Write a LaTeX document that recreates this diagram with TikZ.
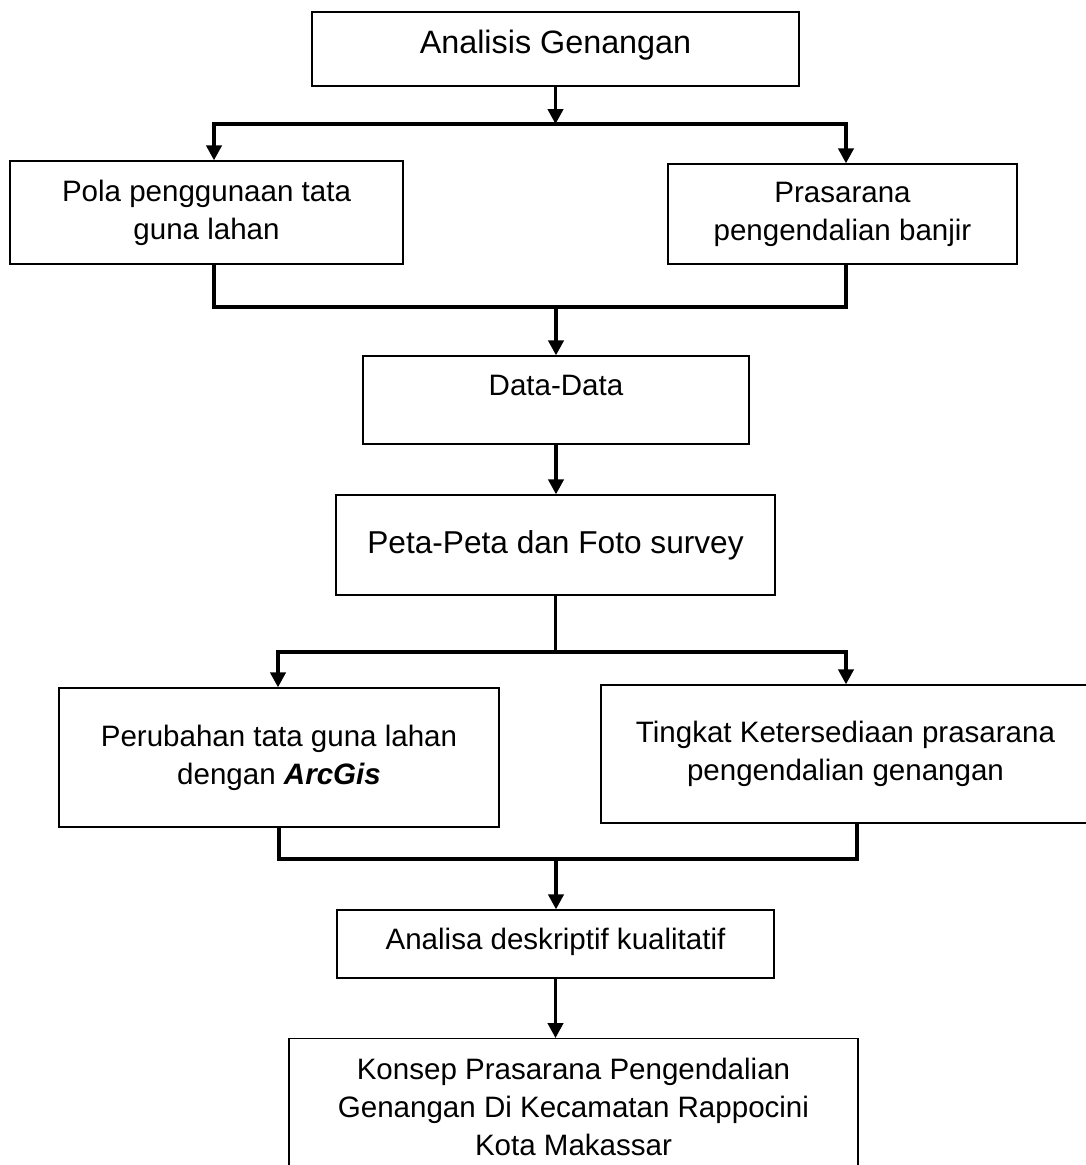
\documentclass[tikz,border=0pt]{standalone}
\usepackage{fontspec}
\setmainfont{Liberation Sans}
\usetikzlibrary{arrows.meta, calc}

\begin{document}
\begin{tikzpicture}[
  x=0.025cm, y=-0.025cm,
  box/.style={draw, line width=1pt, align=center, inner sep=0pt,
              font=\fontsize{21}{27}\selectfont},
  arr/.style={-{Triangle[length=0.37cm, width=0.38cm]}, line width=2.2pt},
  arrs/.style={{Triangle[length=0.37cm, width=0.38cm]}-{Triangle[length=0.37cm, width=0.38cm]},
               line width=2.2pt, line join=miter},
  stem/.style={line width=2.2pt},
  bar/.style={line width=3.4pt, line join=miter},
]
\useasboundingbox (0,0) rectangle (1086,1165);
\clip (0,0) rectangle (1086,1165);

% Top
\node[box, minimum width=12.175cm, minimum height=1.85cm,
      font=\fontsize{23}{27}\selectfont,
      text height=16pt, text depth=9pt] (genangan) at (555.5,49) {Analisis Genangan};

% Two inputs
\node[box, minimum width=9.825cm, minimum height=2.575cm] (pola) at (206.5,212.5)
      {Pola penggunaan tata\\guna lahan};
\node[box, minimum width=8.725cm, minimum height=2.5cm] (banjir) at (842.5,214)
      {Prasarana\\pengendalian banjir};

% Data
\node[box, minimum width=9.65cm, minimum height=2.2cm,
      text height=15pt, text depth=21pt] (data) at (556,400) {Data-Data};
\node[box, minimum width=10.975cm, minimum height=2.5cm,
      font=\fontsize{22.5}{27}\selectfont] (peta) at (555.5,545) {Peta-Peta dan Foto survey};

% Two analyses
\node[box, minimum width=11cm, minimum height=3.475cm] (perubahan) at (279,757.5)
      {Perubahan tata guna lahan\\dengan \textbf{\textit{ArcGis}}};
\node[box, minimum width=12.225cm, minimum height=3.45cm] (tingkat) at (845.5,754)
      {Tingkat Ketersediaan prasarana\\pengendalian genangan};

% Result
\node[box, minimum width=10.925cm, minimum height=1.7cm,
      text height=15pt, text depth=7pt] (analisa) at (555.5,944) {Analisa deskriptif kualitatif};
\node[box, minimum width=14.225cm, anchor=north, inner ysep=13.5pt] (konsep) at (573.5,1038)
      {Konsep Prasarana Pengendalian\\Genangan Di Kecamatan Rappocini\\Kota Makassar};

% Junction points
\coordinate (j1l) at (214,124);  \coordinate (j1r) at (846,124);
\coordinate (j2l) at (214,307);  \coordinate (j2r) at (846,307);  \coordinate (j2) at (556,307);
\coordinate (j3l) at (278,652);  \coordinate (j3r) at (846,652);
\coordinate (j4l) at (279,859);  \coordinate (j4r) at (857,859);  \coordinate (j4) at (556,859);

% Split to the two inputs
\draw[arr] (genangan.south) -- (genangan.south |- j1l);
\draw[arrs] (pola.north -| j1l) -- (j1l) -- (j1r) -- (banjir.north -| j1r);

% Join into data
\draw[bar] (pola.south -| j2l) -- (j2l) -- (j2r) -- (banjir.south -| j2r);
\draw[arr] (j2) -- (j2 |- data.north);
\draw[arr] (data.south) -- (data.south |- peta.north);

% Split to the two analyses
\draw[stem] (peta.south) -- (peta.south |- j3l);
\draw[arrs] (perubahan.north -| j3l) -- (j3l) -- (j3r) -- (tingkat.north -| j3r);

% Join into result
\draw[bar] (perubahan.south -| j4l) -- (j4l) -- (j4r) -- (tingkat.south -| j4r);
\draw[arr] (j4) -- (j4 |- analisa.north);
\draw[arr] (analisa.south) -- (analisa.south |- konsep.north);

\end{tikzpicture}
\end{document}
